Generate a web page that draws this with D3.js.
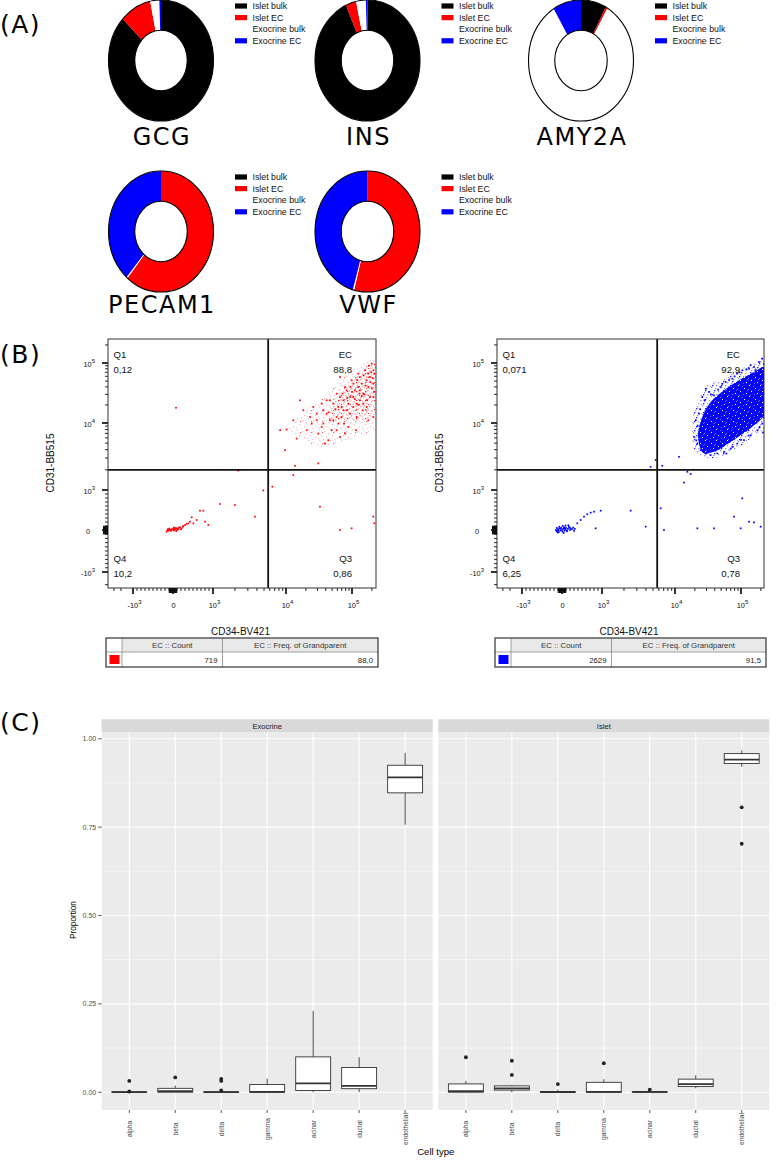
<!DOCTYPE html>
<html><head><meta charset="utf-8">
<script src="https://cdn.jsdelivr.net/npm/d3@7"></script>
<style>body{margin:0;background:#fff;} svg{display:block;}</style>
</head><body>
<svg id="fig" width="776" height="1160"></svg>
<script>
// ================= DATA =================
// ---- Panel A: donut fractions (Islet bulk, Islet EC, Exocrine bulk, Exocrine EC) ----
const donutGenes = ["GCG", "INS", "AMY2A", "PECAM1", "VWF"];
const donutGroups = ["Islet bulk", "Islet EC", "Exocrine bulk", "Exocrine EC"];
const donutGCG = [0.870, 0.097, 0.028, 0.005];
const donutINS = [0.933, 0.032, 0.030, 0.005];
const donutAMY2A = [0.078, 0.006, 0.829, 0.087];
const donutPECAM1 = [0.000, 0.610, 0.004, 0.386];
const donutVWF = [0.000, 0.541, 0.004, 0.455];

// ---- Panel B: flow cytometry (CD34-BV421, CD31-BB515) ----
const flowQuadNames = ["Q1", "EC", "Q4", "Q3"];
const flowRedPct = ["0,12", "88,8", "10,2", "0,86"];
const flowBluePct = ["0,071", "92,9", "6,25", "0,78"];
const flowGate = [5700, 2000];
const flowMajorTicks = [-1000, 0, 1000, 10000, 100000];
const flowTickBase = ["-10", "0", "10", "10", "10"];
const flowTickSup = ["3", "", "3", "4", "5"];
const tableHeaders = ["EC :: Count", "EC :: Freq. of Grandparent"];
const tableRed = ["719", "88,0"];
const tableBlue = ["2629", "91,5"];

const redPoints = [
 [8300,7800],[9700,3930],[12900,11100],[14500,5850],[18300,16300],[20600,7800],[23100,12600],[25900,18500],
 [29200,11100],[30900,6950],[34700,21000],[36800,9800],[39000,4930],[41300,14300],[46400,23900],[49200,7800],
 [52100,11100],[58600,30800],[62100,18500],[65800,6200],[69700,12600],[74000,23900],[78300,39800],[83000,16300],
 [87900,8700],[93300,27100],[98800,51400],[104700,18500],[111000,35000],[117700,12600],[124700,66400],[132100,23900],
 [140000,45300],[148600,30800],[157400,75500],[166700,18500],[176600,39800],[187500,58400],[198600,97500],[210400,27100],
 [217800,66400],[16300,23900],[30900,2490],[13700,2300],[10200,8000],[43800,5530],[58600,7800],[75700,9800],
 [115000,7800],[145000,16300],[176600,11100],[210400,12600],[52100,21000],[65800,27100],[83000,35000],[104700,45300],
 [132100,58400],[166700,51400],[210400,45300],[187500,27100],[148600,21000],[117700,21000],[93300,14300],[74000,16300],
 [58600,12600],[46400,11100],[36800,16300],[29200,14300],[41300,23900],[104700,27100],[132100,35000],[210400,75500],
 [176600,66400],[124700,39800],[87900,21000],[69700,18500],[62100,9800],[78300,6950],[34700,8700],[24500,9800],
 [65800,58400],[155000,30000],[120000,52000],[95000,40000],[200000,38000],[180000,90000],[140000,28000],[110000,25000],
 [160000,42000],[190000,48000],[170000,24000],[130000,31000],[100000,33000],[85000,26000],[150000,62000],[205000,56000],
 [215000,33000],[195000,70000],[125000,20000],[72000,31000],[56000,17000],[44000,15000],
 [12900,1670],[6500,1120],[4890,990],[32700,583],[65800,0],[98800,42],[217800,167],[210400,333],[2220,1950],
 [75,18000],
 [-158,-40],[-117,-16],[-75,0],[-33,17],[8,0],[50,25],[92,42],[133,17],[175,67],[217,42],[258,100],[300,125],
 [342,150],[383,167],[425,208],[467,317],[508,167],[592,250],[675,483],[758,483],[800,208],[883,125],[1250,650],
 [2000,625],[3760,333],[-100,10],[-50,-20],[0,30],[30,-10],[60,50],[100,0],[150,60],[200,20],[250,80],[-130,20],
 [20,60],[80,-30],[-140,-5],[-90,35],[40,10],[120,35]
];
const redHalo = [[12900,11100],[20600,16300],[36800,27100],[65800,51400],[117700,85800],[222000,110700],
 [222000,7800],[117700,6200],[52100,4650],[29200,4400],[16300,6200],[11500,7800]];
const redCore = [[52100,21000],[83000,39800],[132100,66400],[222000,97500],[222000,14300],[132100,11100],
 [74000,11100],[46400,11100]];

const bluePoints = [
 [-150,0],[-120,-30],[-100,20],[-80,-50],[-60,40],[-40,-10],[-20,60],[0,0],[10,-40],[30,30],[50,70],[60,-20],
 [80,10],[100,50],[120,-10],[150,30],[170,80],[200,0],[220,40],[250,20],[280,60],[300,-20],[320,30],[-130,50],
 [-70,80],[20,100],[90,110],[160,120],[-110,-60],[40,-70],[-140,-20],[-90,-10],[-30,30],[70,40],[130,-30],[190,60],
 [383,167],[467,250],[550,333],[633,392],[717,433],[800,458],[967,483],[842,42],[2470,483],[3970,83],[6370,542],
 [7060,0],[21800,42],[39000,42],[98800,42],[132100,208],[157400,192],[198600,83],[104700,792],[78300,333],
 [4640,2220],[5440,2800],[6700,2300],[11500,3130],[15400,1870],[17300,1730],[13700,1290],
 [19400,6200],[20600,11100],[23100,14300],[25900,27100],[29200,37300],[32700,32900],[39000,28900],[49200,39800],
 [58600,48200],[74000,54800],[87900,66400],[104700,75500],[132100,80500],[157400,85800],[187500,104000],[210400,118000],
 [222000,97500],[222000,58400],[222000,35000],[222000,18500],[222000,12600],[210400,9800],[176600,7800],[140000,6560],
 [111000,5530],[87900,4930],[69700,4160],[55300,3710],[43800,3510],[34700,3310],[29200,3510],[24500,3930],
 [21800,4930],[25900,6950],[230000,120000],[230000,90000],[230000,70000],[230000,50000],[230000,40000],
 [230000,30000],[230000,25000],[230000,20000],[230000,15000],[230000,11000],
 [22000,9000],[24000,17000],[28000,24000],[35000,30000],[45000,36000],[52000,45000],[66000,52000],[80000,60000],
 [95000,70000],[120000,78000],[140000,92000],[165000,76000],[21000,5500],[26000,4500],[33000,4100],[60000,3500],
 [75000,4400],[100000,5600],[130000,6500],[190000,8600],[215000,7200]
];
const blueHalo = [[18300,11100],[21800,23900],[30900,42500],[55300,54800],[98800,80000],[157400,97500],
 [230000,126000],[230000,8700],[157400,6550],[87900,4150],[49200,3130],[27500,3080],[19400,4150],[18300,6950]];
const blueCore = [[22300,6560],[25900,12600],[34700,22400],[55300,35000],[93300,51400],[157400,70800],
 [231000,85800],[231000,14300],[157400,9230],[98800,6560],[62100,4820],[39000,3710],[26700,3580]];

// ---- Panel C: box plots [min, q1, median, q3, max] ----
const cellTypes = ["alpha", "beta", "delta", "gamma", "acinar", "ductal", "endothelial"];
const facetNames = ["Exocrine", "Islet"];
const exocrineBoxes = [
 [0, 0, 0, 0.001, 0.001], [0, 0, 0.003, 0.011, 0.019], [0, 0, 0, 0.001, 0.001], [0, 0, 0.001, 0.022, 0.038],
 [0, 0.005, 0.025, 0.100, 0.230], [0, 0.010, 0.018, 0.070, 0.099], [0.757, 0.847, 0.891, 0.925, 0.960]];
const exocrineOutliers = [[0.032, 0.002], [0.042], [0.038, 0.032, 0.005], [], [], [], []];
const isletBoxes = [
 [0, 0, 0.003, 0.0235, 0.032], [0, 0.006, 0.011, 0.018, 0.021], [0, 0, 0, 0.002, 0.007], [0, 0, 0.001, 0.028, 0.037],
 [0, 0, 0.001, 0.001, 0.002], [0.011, 0.016, 0.023, 0.037, 0.048], [0.921, 0.930, 0.941, 0.958, 0.967]];
const isletOutliers = [[0.099], [0.089, 0.049], [0.023], [0.082], [0.0075], [], [0.806, 0.703]];
const propTicks = [0, 0.25, 0.5, 0.75, 1];
const propTickLabels = ["0.00", "0.25", "0.50", "0.75", "1.00"];
const propMinor = [0.125, 0.375, 0.625, 0.875];

// ================= DRAWING =================
const svg = d3.select("#fig");
svg.append("rect").attr("width", 776).attr("height", 1160).attr("fill", "#fff");
const defs = svg.append("defs");
const SANS = "Liberation Sans, Arial, sans-serif";
const VERD = "DejaVu Sans, Verdana, sans-serif";

[["(A)", 33], ["(B)", 363], ["(C)", 731]].forEach(([t, y]) =>
  svg.append("text").attr("x", 0).attr("y", y).text(t)
    .attr("font-family", VERD).attr("font-size", 25).attr("letter-spacing", 1.5).attr("fill", "#000"));

// ---------- Panel A ----------
const donutColors = ["#000000", "#ff0000", "#ffffff", "#0000ff"];
const donutData = [donutGCG, donutINS, donutAMY2A, donutPECAM1, donutVWF];
const donutLayout = [
  {cx: 161, cy: 60.5, ly: 145}, {cx: 367.5, cy: 60.5, ly: 145}, {cx: 581, cy: 60.5, ly: 145},
  {cx: 161, cy: 231.5, ly: 313}, {cx: 367.5, cy: 231.5, ly: 313}];
const RX = 52.5, RY = 60.5;
const pie = d3.pie().sort(null).value(d => d);
const arc = d3.arc().innerRadius(RX * 0.5).outerRadius(RX);
donutGenes.forEach((gene, k) => {
  const L = donutLayout[k];
  const g = svg.append("g").attr("transform", `translate(${L.cx},${L.cy}) scale(1,${RY / RX})`);
  g.selectAll("path").data(pie(donutData[k])).join("path")
    .attr("d", arc).attr("fill", (d, i) => donutColors[i]);
  const o = svg.append("g").attr("transform", `translate(${L.cx},${L.cy})`);
  o.append("ellipse").attr("rx", RX).attr("ry", RY).attr("fill", "none").attr("stroke", "#000").attr("stroke-width", 1.1);
  o.append("ellipse").attr("rx", RX / 2).attr("ry", RY / 2).attr("fill", "none").attr("stroke", "#000").attr("stroke-width", 1.1);
  svg.append("text").attr("x", L.cx + 1).attr("y", L.ly).attr("text-anchor", "middle")
    .attr("font-family", VERD).attr("font-size", 24).attr("letter-spacing", 1.5).attr("fill", "#000").text(gene);
  const lg = svg.append("g").attr("transform", `translate(${L.cx + 74},${L.cy - RY + 6})`);
  donutGroups.forEach((name, i) => {
    lg.append("rect").attr("x", 0).attr("y", i * 11.6 - 2.6).attr("width", 12).attr("height", 5.2).attr("fill", donutColors[i]);
    lg.append("text").attr("x", 17.5).attr("y", i * 11.6).attr("dy", "0.35em")
      .attr("font-family", SANS).attr("font-size", 8.8).attr("fill", "#111").text(name);
  });
});

// ---------- Panel B ----------
function pattern(id, size, bg, layers) {
  const p = defs.append("pattern").attr("id", id).attr("patternUnits", "userSpaceOnUse")
    .attr("width", size).attr("height", size);
  if (bg) p.append("rect").attr("width", size).attr("height", size).attr("fill", bg);
  layers.forEach(([col, ds, dots]) => dots.forEach(([x, y]) =>
    p.append("rect").attr("x", x).attr("y", y).attr("width", ds).attr("height", ds).attr("fill", col)));
}
pattern("pinkHalo", 11, null, [["#f9c2c2", 1.3, [[0, 0], [5, 2], [9, 4], [2, 6], [7, 8], [4, 10], [10, 9]]],
  ["#f26a6a", 1.2, [[3, 3]]]]);
pattern("redCore", 9, null, [["#f7a8a8", 1.4, [[0, 1], [4, 0], [7, 3], [2, 5], [6, 7], [1, 8]]],
  ["#ff2020", 1.3, [[5, 4], [8, 8]]]]);
pattern("blueHalo", 9, null, [["#8c8cff", 1.3, [[0, 0], [4, 1], [7, 4], [2, 5], [5, 7], [8, 8]]],
  ["#1010ff", 1.3, [[3, 3], [1, 7]]]]);
pattern("blueCore", 11, "#0505f8", [["#ffffff", 1, [[1, 0], [7, 3], [3, 6], [9, 8]]],
  ["#6f6fff", 1, [[5, 1], [0, 4], [10, 5], [6, 9], [2, 10]]]]);

function T(v) { const a = Math.abs(v); return a <= 1000 ? v / 1000 : Math.sign(v) * (1 + Math.log10(a / 1000)); }
const flowDecades = [-1, 0, 1, 2, 3];
const minorVals = [];
[10, 100].forEach(d => { for (let k = 1; k <= 9; k++) minorVals.push(k * d, -k * d); });
[1000, 10000, 100000].forEach(d => { for (let k = 2; k <= 9; k++) minorVals.push(k * d); });
for (let k = 2; k <= 9; k++) minorVals.push(-k * 1000);

function renderFlow(cfg, idx) {
  const {x0, x1, y0, y1, color, points, halo, core, haloFill, coreFill, pct, table} = cfg;
  const xs = d3.scaleLinear().domain(flowDecades).range([x0 + 25, x0 + 65, x0 + 105, x0 + 178, x0 + 244]);
  const ys = d3.scaleLinear().domain(flowDecades).range([y0 + 233, y0 + 191, y0 + 151, y0 + 84, y0 + 24]);
  const X = v => xs(T(v)), Y = v => ys(T(v));
  const g = svg.append("g");
  const cid = "clip" + idx;
  defs.append("clipPath").attr("id", cid).append("rect").attr("x", x0).attr("y", y0).attr("width", x1 - x0).attr("height", y1 - y0);
  const cg = g.append("g").attr("clip-path", `url(#${cid})`);
  const poly = d3.line().x(d => X(d[0])).y(d => Y(d[1])).curve(d3.curveCatmullRomClosed.alpha(0.5));
  cg.append("path").attr("d", poly(halo)).attr("fill", haloFill);
  cg.append("path").attr("d", poly(core)).attr("fill", coreFill);
  cg.selectAll("rect.pt").data(points).join("rect").attr("class", "pt")
    .attr("x", d => X(d[0]) - 0.85).attr("y", d => Y(d[1]) - 0.85)
    .attr("width", 1.7).attr("height", 1.7).attr("fill", color);
  g.append("line").attr("x1", X(flowGate[0])).attr("x2", X(flowGate[0])).attr("y1", y0).attr("y2", y1)
    .attr("stroke", "#111").attr("stroke-width", 1.8);
  g.append("line").attr("x1", x0).attr("x2", x1).attr("y1", Y(flowGate[1])).attr("y2", Y(flowGate[1]))
    .attr("stroke", "#111").attr("stroke-width", 1.8);
  g.append("rect").attr("x", x0).attr("y", y0).attr("width", x1 - x0).attr("height", y1 - y0)
    .attr("fill", "none").attr("stroke", "#333").attr("stroke-width", 1);
  minorVals.forEach(v => {
    const yy = Y(v), xx = X(v);
    const near0 = Math.abs(v) < 100;
    if (yy > y0 + 1 && yy < y1 - 1)
      g.append("line").attr("x1", x0 - (near0 ? 5 : 3)).attr("x2", x0).attr("y1", yy).attr("y2", yy).attr("stroke", "#111").attr("stroke-width", near0 ? 1.3 : 0.9);
    if (xx > x0 + 1 && xx < x1 - 1)
      g.append("line").attr("x1", xx).attr("x2", xx).attr("y1", y1).attr("y2", y1 + (near0 ? 5 : 3)).attr("stroke", "#111").attr("stroke-width", near0 ? 1.3 : 0.9);
  });
  flowMajorTicks.forEach((v, i) => {
    const yy = Y(v), xx = X(v);
    g.append("line").attr("x1", x0 - 6).attr("x2", x0).attr("y1", yy).attr("y2", yy).attr("stroke", "#111").attr("stroke-width", 1.7);
    g.append("line").attr("x1", xx).attr("x2", xx).attr("y1", y1).attr("y2", y1 + 6).attr("stroke", "#111").attr("stroke-width", 1.7);
    const ty = g.append("text").attr("x", flowTickSup[i] ? x0 - 13 : x0 - 18).attr("y", yy + 3.5)
      .attr("text-anchor", "end").attr("font-family", SANS).attr("font-size", 7.4).attr("fill", "#111");
    ty.append("tspan").text(flowTickBase[i]);
    if (flowTickSup[i]) ty.append("tspan").attr("dy", -4).attr("font-size", 6).text(flowTickSup[i]);
    const tx = g.append("text").attr("x", xx + (flowTickSup[i] ? 1.5 : 0.5)).attr("y", y1 + 20)
      .attr("text-anchor", "middle").attr("font-family", SANS).attr("font-size", 7.4).attr("fill", "#111");
    tx.append("tspan").text(flowTickBase[i]);
    if (flowTickSup[i]) tx.append("tspan").attr("dy", -4).attr("font-size", 6).text(flowTickSup[i]);
  });
  const qpos = [[x0 + 5.5, y0 + 18.5, "start"], [x1 - 24, y0 + 18.5, "end"], [x0 + 5.5, y0 + 222.5, "start"], [x1 - 24, y0 + 222.5, "end"]];
  flowQuadNames.forEach((q, i) => {
    const [qx, qy, an] = qpos[i];
    g.append("text").attr("x", qx).attr("y", qy).attr("text-anchor", an).attr("font-family", SANS)
      .attr("font-size", 9.6).attr("fill", "#111").text(q);
    g.append("text").attr("x", qx).attr("y", qy + 15.5).attr("text-anchor", an).attr("font-family", SANS)
      .attr("font-size", 9.6).attr("fill", "#111").text(pct[i]);
  });
  g.append("text").attr("transform", `translate(${x0 - 54},${y0 + 124}) rotate(-90)`).attr("text-anchor", "middle")
    .attr("font-family", SANS).attr("font-size", 10).attr("fill", "#111").text("CD31-BB515");
  g.append("text").attr("x", (x0 + x1) / 2 - 1.5).attr("y", y1 + 47).attr("text-anchor", "middle")
    .attr("font-family", SANS).attr("font-size", 10).attr("fill", "#111").text("CD34-BV421");
  const tx0 = x0 - 2, tx1 = x1 + 2, c1 = x0 + 14, c2 = x0 + 114.5, ty0 = y1 + 50, tym = y1 + 64, ty1 = y1 + 79;
  g.append("rect").attr("x", c1).attr("y", ty0).attr("width", tx1 - c1).attr("height", tym - ty0).attr("fill", "#e9e9e9");
  [[c1, ty0, c1, ty1], [c2, ty0, c2, ty1], [tx0, tym, tx1, tym]].forEach(([a, b, c, d]) =>
    g.append("line").attr("x1", a).attr("y1", b).attr("x2", c).attr("y2", d).attr("stroke", "#888").attr("stroke-width", 0.8));
  g.append("rect").attr("x", tx0).attr("y", ty0).attr("width", tx1 - tx0).attr("height", ty1 - ty0)
    .attr("fill", "none").attr("stroke", "#444").attr("stroke-width", 1.3);
  g.append("text").attr("x", (c1 + c2) / 2).attr("y", ty0 + 10).attr("text-anchor", "middle")
    .attr("font-family", SANS).attr("font-size", 7.8).attr("fill", "#333").text(tableHeaders[0]);
  g.append("text").attr("x", (c2 + tx1) / 2).attr("y", ty0 + 10).attr("text-anchor", "middle")
    .attr("font-family", SANS).attr("font-size", 7.8).attr("fill", "#333").text(tableHeaders[1]);
  g.append("rect").attr("x", tx0 + 3.5).attr("y", tym + 3).attr("width", 10).attr("height", 9).attr("fill", color);
  g.append("text").attr("x", c2 - 5).attr("y", tym + 11).attr("text-anchor", "end")
    .attr("font-family", SANS).attr("font-size", 7.8).attr("fill", "#222").text(table[0]);
  g.append("text").attr("x", tx1 - 5).attr("y", tym + 11).attr("text-anchor", "end")
    .attr("font-family", SANS).attr("font-size", 7.8).attr("fill", "#222").text(table[1]);
}

renderFlow({x0: 108, x1: 376, y0: 339, y1: 588, color: "#ff0000", points: redPoints, halo: redHalo, core: redCore,
  haloFill: "url(#pinkHalo)", coreFill: "url(#redCore)", pct: flowRedPct, table: tableRed}, 0);
renderFlow({x0: 497, x1: 764, y0: 339, y1: 588, color: "#0000ff", points: bluePoints, halo: blueHalo, core: blueCore,
  haloFill: "url(#blueHalo)", coreFill: "url(#blueCore)", pct: flowBluePct, table: tableBlue}, 1);

// ---------- Panel C ----------
const cTop = 732.3, cBottom = 1110;
const yC = d3.scaleLinear().domain([-0.0503, 1.0183]).range([cBottom, cTop]);
const facetX = [[101.7, 432.7], [438.3, 769.3]];
const facetBoxes = [exocrineBoxes, isletBoxes];
const facetOut = [exocrineOutliers, isletOutliers];

facetNames.forEach((fname, f) => {
  const [px0, px1] = facetX[f];
  const xs = d3.scalePoint().domain(cellTypes).range([px0, px1]).padding(0.6);
  const bw = xs.step() * 0.76;
  const g = svg.append("g");
  g.append("rect").attr("x", px0).attr("y", cTop).attr("width", px1 - px0).attr("height", cBottom - cTop).attr("fill", "#EBEBEB");
  propMinor.forEach(v => g.append("line").attr("x1", px0).attr("x2", px1).attr("y1", yC(v)).attr("y2", yC(v))
    .attr("stroke", "#fff").attr("stroke-width", 0.55));
  propTicks.forEach(v => g.append("line").attr("x1", px0).attr("x2", px1).attr("y1", yC(v)).attr("y2", yC(v))
    .attr("stroke", "#fff").attr("stroke-width", 1.1));
  cellTypes.forEach(c => g.append("line").attr("x1", xs(c)).attr("x2", xs(c)).attr("y1", cTop).attr("y2", cBottom)
    .attr("stroke", "#fff").attr("stroke-width", 1.1));
  g.append("rect").attr("x", px0).attr("y", 719.3).attr("width", px1 - px0).attr("height", cTop - 719.3).attr("fill", "#D9D9D9");
  g.append("text").attr("x", (px0 + px1) / 2).attr("y", 726).attr("dy", "0.35em").attr("text-anchor", "middle")
    .attr("font-family", SANS).attr("font-size", 7.6).attr("fill", "#1A1A1A").text(fname);
  cellTypes.forEach((c, j) => {
    const s = facetBoxes[f][j], cx = xs(c);
    g.append("line").attr("x1", cx).attr("x2", cx).attr("y1", yC(s[0])).attr("y2", yC(s[1])).attr("stroke", "#333").attr("stroke-width", 0.9);
    g.append("line").attr("x1", cx).attr("x2", cx).attr("y1", yC(s[3])).attr("y2", yC(s[4])).attr("stroke", "#333").attr("stroke-width", 0.9);
    g.append("rect").attr("x", cx - bw / 2).attr("y", yC(s[3])).attr("width", bw).attr("height", Math.max(0.3, yC(s[1]) - yC(s[3])))
      .attr("fill", "#fff").attr("stroke", "#333").attr("stroke-width", 0.9);
    g.append("line").attr("x1", cx - bw / 2).attr("x2", cx + bw / 2).attr("y1", yC(s[2])).attr("y2", yC(s[2]))
      .attr("stroke", "#333").attr("stroke-width", 1.7);
    g.selectAll(null).data(facetOut[f][j]).join("circle").attr("cx", cx).attr("cy", d => yC(d)).attr("r", 1.9).attr("fill", "#222");
    g.append("line").attr("x1", cx).attr("x2", cx).attr("y1", cBottom).attr("y2", cBottom + 3).attr("stroke", "#333").attr("stroke-width", 0.8);
    g.append("text").attr("transform", `translate(${cx + 2.5},1129) rotate(-90)`).attr("text-anchor", "middle")
      .attr("font-family", SANS).attr("font-size", 6.6).attr("fill", "#4D4D4D").text(c);
  });
  if (f === 0) {
    propTicks.forEach((v, i) => {
      g.append("line").attr("x1", px0 - 3.5).attr("x2", px0).attr("y1", yC(v)).attr("y2", yC(v)).attr("stroke", "#333").attr("stroke-width", 0.8);
      g.append("text").attr("x", px0 - 5.5).attr("y", yC(v)).attr("dy", "0.35em").attr("text-anchor", "end")
        .attr("font-family", SANS).attr("font-size", 7).attr("fill", "#4D4D4D").text(propTickLabels[i]);
    });
  }
});
svg.append("text").attr("transform", "translate(76,920) rotate(-90)").attr("text-anchor", "middle")
  .attr("font-family", SANS).attr("font-size", 8.2).attr("fill", "#000").text("Proportion");
svg.append("text").attr("x", 435.8).attr("y", 1155).attr("text-anchor", "middle")
  .attr("font-family", SANS).attr("font-size", 9.6).attr("fill", "#000").text("Cell type");
</script>
</body></html>
